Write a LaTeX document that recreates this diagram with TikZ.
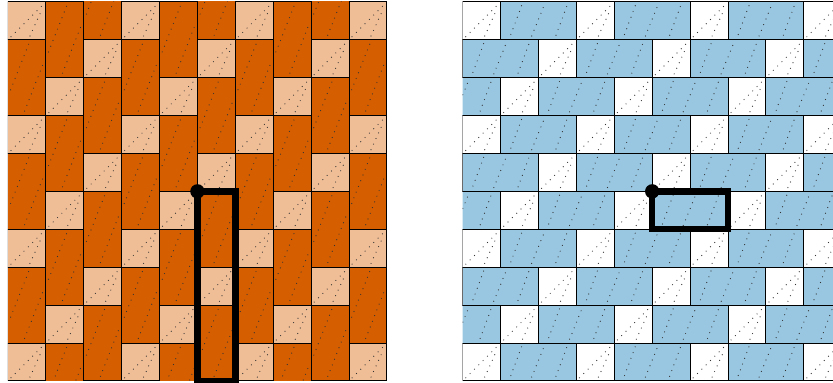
\documentclass[tikz,border=0pt]{standalone}
\usetikzlibrary{calc}

\definecolor{vermil}{RGB}{213,94,0}
\definecolor{peach}{RGB}{240,190,150}
\definecolor{skyblue}{RGB}{153,199,225}

\tikzset{
  cell/.style={draw=black, line width=0.7pt},
  grain/.style={black!80, line width=0.9pt, line cap=round, dash pattern=on 0pt off 4.6pt},
  frame/.style={line width=4.8pt, line join=miter},
}

% stipple strokes, in the local coordinates of one tile
\newcommand{\squaregrain}{%
  \draw[grain] (0.08,0.08) -- (0.92,0.92);
  \draw[grain] (0.58,0.1) -- (0.86,0.72);}
\newcommand{\vertgrain}{%
  \draw[grain] (0.07,0.68) -- (0.56,1.92);
  \draw[grain] (0.44,0.12) -- (0.93,1.37);}
\newcommand{\horizgrain}{%
  \draw[grain] (0.27,0.14) -- (0.56,0.92);
  \draw[grain] (0.82,0.1) -- (1.16,0.94);
  \draw[grain] (1.46,0.12) -- (1.75,0.9);}

\begin{document}
\begin{tikzpicture}
  \useasboundingbox (-0.21,-0.03) rectangle (21.77,10.05);

  % left board: vertical dominoes and light squares
  \begin{scope}
    \clip (0,0) rectangle (10,10);
    \foreach \c in {0,...,9} {
      \foreach \j in {-1,...,9} {
        \pgfmathtruncatemacro\m{mod(\j-\c+30,3)}
        \ifnum\m=0
          \begin{scope}[shift={(\c,\j)}]
            \filldraw[cell, fill=peach] (0,0) rectangle (1,1);
            \squaregrain
          \end{scope}
        \fi
        \ifnum\m=1
          \begin{scope}[shift={(\c,\j)}]
            \filldraw[cell, fill=vermil] (0,0) rectangle (1,2);
            \vertgrain
          \end{scope}
        \fi
      }
    }
  \end{scope}

  % right board: horizontal dominoes and white squares
  \begin{scope}[xshift=12cm]
    \clip (0,0) rectangle (10,10);
    \foreach \c in {-1,...,9} {
      \foreach \j in {0,...,9} {
        \pgfmathtruncatemacro\m{mod(\c-\j+30,3)}
        \ifnum\m=0
          \begin{scope}[shift={(\c,\j)}]
            \filldraw[cell, fill=white] (0,0) rectangle (1,1);
            \squaregrain
          \end{scope}
        \fi
        \ifnum\m=1
          \begin{scope}[shift={(\c,\j)}]
            \filldraw[cell, fill=skyblue] (0,0) rectangle (2,1);
            \horizgrain
          \end{scope}
        \fi
      }
    }
  \end{scope}

  % highlighted windows with their corner marks
  \draw[frame] (5,0) rectangle (6,5);
  \fill (5,5) circle (0.19);
  \draw[frame] (17,4) rectangle (19,5);
  \fill (17,5) circle (0.19);
\end{tikzpicture}
\end{document}
